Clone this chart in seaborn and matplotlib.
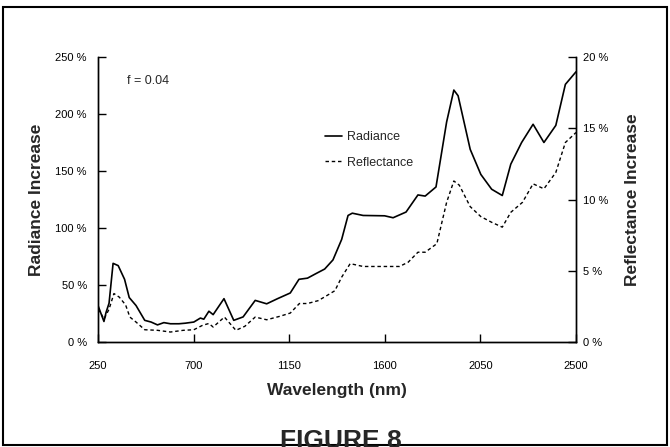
import matplotlib
matplotlib.use("Agg")
import matplotlib.pyplot as plt
from matplotlib.patches import Rectangle
from matplotlib.lines import Line2D
import pandas as pd
import seaborn as sns

# radiance increase (%) vs wavelength (nm)
rad_nm = [250, 264, 278, 288, 302, 321, 345, 375, 397, 429, 470, 500, 530, 560,
          591, 631, 661, 701, 732, 748, 772, 792, 843, 889, 933, 990, 1044, 1095,
          1155, 1196, 1236, 1276, 1317, 1356, 1397, 1427, 1447, 1498, 1599, 1639,
          1700, 1756, 1790, 1841, 1891, 1925, 1945, 2002, 2052, 2103, 2153, 2193,
          2244, 2298, 2349, 2405, 2450, 2500]
rad_pct = [32, 25, 18, 26, 34, 69, 67, 55, 39, 32, 19, 17.5, 15, 17,
           16, 16, 16.5, 17.5, 21, 20, 27, 24, 38, 19, 22, 36.5, 33.5, 38,
           43, 55, 56, 60, 64, 72, 90, 111, 113, 111, 110.7, 109,
           114, 129, 128, 136, 193, 221, 216, 169, 147, 134, 128.5, 156,
           175, 191, 175, 190, 226, 237]

# reflectance increase (%) vs wavelength (nm)
ref_nm = [250, 264, 278, 302, 325, 350, 380, 400, 429, 470, 530, 591, 651, 701,
          742, 772, 792, 845, 899, 941, 990, 1044, 1105, 1155, 1198, 1236, 1286,
          1321, 1365, 1397, 1437, 1498, 1599, 1669, 1710, 1756, 1790, 1845, 1891,
          1925, 1951, 2002, 2052, 2103, 2153, 2193, 2248, 2298, 2349, 2405, 2450, 2500]
ref_pct = [2.3, 2.0, 1.6, 2.3, 3.4, 3.15, 2.6, 1.75, 1.4, 0.86, 0.82, 0.7, 0.82, 0.86,
           1.17, 1.3, 1.05, 1.75, 0.82, 1.1, 1.75, 1.56, 1.8, 2.03, 2.7, 2.7, 2.9,
           3.2, 3.6, 4.55, 5.5, 5.3, 5.3, 5.3, 5.6, 6.3, 6.3, 6.9, 9.8,
           11.3, 11.0, 9.5, 8.8, 8.4, 8.06, 9.1, 9.8, 11.1, 10.75, 11.9, 14.0, 14.7]

x_ticks = [250, 700, 1150, 1600, 2050, 2500]
left_ticks = [0, 50, 100, 150, 200, 250]
right_ticks = [0, 5, 10, 15, 20]

rad = pd.DataFrame({"nm": rad_nm, "pct": rad_pct})
ref = pd.DataFrame({"nm": ref_nm, "pct": ref_pct})

sns.set_style("ticks")
plt.rcParams["font.family"] = ["Liberation Sans", "DejaVu Sans"]

fig = plt.figure(figsize=(6.7, 4.47), dpi=100)
ax = fig.add_axes([98 / 670, 1 - 342 / 447, 478 / 670, 285 / 447])
ax2 = ax.twinx()

sns.lineplot(data=rad, x="nm", y="pct", ax=ax, color="black", linewidth=1.2)
sns.lineplot(data=ref, x="nm", y="pct", ax=ax2, color="black", linewidth=1.0,
             linestyle=(0, (2.5, 2)))

ax.set_xlim(250, 2500)
ax.set_ylim(0, 250)
ax2.set_ylim(0, 20)
ax.set_xticks(x_ticks)
ax.set_yticks(left_ticks)
ax2.set_yticks(right_ticks)
ax.set_xticklabels([str(t) for t in x_ticks], fontsize=8)
ax.set_yticklabels([f"{t} %" for t in left_ticks], fontsize=8)
ax2.set_yticklabels([f"{t} %" for t in right_ticks], fontsize=8)

for a in (ax, ax2):
    a.spines["top"].set_visible(False)
    for s in ("left", "bottom", "right"):
        a.spines[s].set_linewidth(1.0)
        a.spines[s].set_color("black")
    a.tick_params(direction="in", length=6, width=1.0, colors="black", pad=5)
ax.tick_params(axis="y", pad=8)
ax.tick_params(axis="x", pad=14)

ax.set_xlabel("Wavelength (nm)", fontsize=12.5, fontweight="bold", labelpad=8)
ax.set_ylabel("Radiance Increase", fontsize=12.5, fontweight="bold", labelpad=8)
ax2.set_ylabel("Reflectance Increase", fontsize=12.5, fontweight="bold", labelpad=12)

ax.text(0.06, 0.915, "f = 0.04", transform=ax.transAxes, fontsize=9,
        va="center", ha="left")

handles = [Line2D([], [], color="black", linewidth=1.2),
           Line2D([], [], color="black", linewidth=1.0, linestyle=(0, (2.5, 2)))]
ax2.legend(handles, ["Radiance", "Reflectance"], loc="upper left",
           bbox_to_anchor=(0.452, 0.78), frameon=False, fontsize=9,
           handlelength=1.3, handletextpad=0.4, labelspacing=1.1)

fig.patches.append(Rectangle((3 / 670, 2 / 447), 664 / 670, 438 / 447,
                             transform=fig.transFigure, fill=False,
                             edgecolor="black", linewidth=1.5))
fig.text(341 / 670, 1 - 429 / 447, "FIGURE 8", ha="center", va="top",
         fontsize=19, fontweight="bold")

fig.savefig("out.png", dpi=100)
